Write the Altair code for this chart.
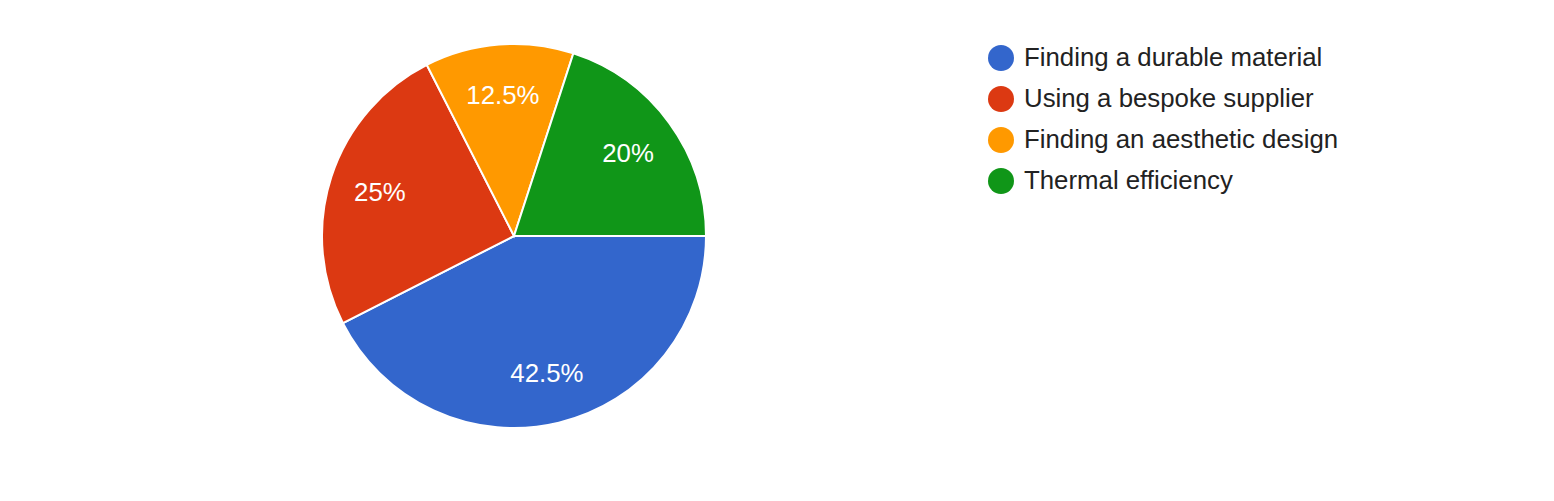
import math
import altair as alt
import pandas as pd

categories = ["Finding a durable material", "Using a bespoke supplier",
              "Finding an aesthetic design", "Thermal efficiency"]
values = [42.5, 25, 12.5, 20]
labels = ["42.5%", "25%", "12.5%", "20%"]
colors = ["#3366cc", "#dc3912", "#ff9900", "#109618"]

df = pd.DataFrame({"category": categories, "value": values,
                   "label": labels, "order": list(range(len(categories)))})

theta = alt.Theta("value:Q", stack=True,
                  scale=alt.Scale(range=[math.pi / 2, math.pi / 2 + 2 * math.pi]))

base = alt.Chart(df).encode(
    theta=theta,
    order=alt.Order("order:Q"),
)

pie = base.mark_arc(outerRadius=192, stroke="white", strokeWidth=2).encode(
    x=alt.value(506), y=alt.value(228),
    color=alt.Color("category:N",
                    scale=alt.Scale(domain=categories, range=colors),
                    sort=categories,
                    legend=alt.Legend(title=None, orient="none", legendX=980, legendY=37,
                                      symbolType="circle", symbolSize=676,
                                      symbolStrokeWidth=0, labelFontSize=25.8,
                                      labelFont="Liberation Sans", labelColor="#222222",
                                      labelOffset=10, rowPadding=15, labelLimit=600)),
)

text = base.mark_text(radius=141, fontSize=25.8, font="Liberation Sans",
                      color="white", baseline="middle", align="center", dy=1).encode(
    x=alt.value(506), y=alt.value(228),
    text="label:N",
)

chart = (pie + text).properties(
    width=1538, height=485, padding=0, autosize=alt.AutoSizeParams(type="none"),
).configure_view(stroke=None)

chart.save("out.html", embed_options={"renderer": "svg", "actions": False})
